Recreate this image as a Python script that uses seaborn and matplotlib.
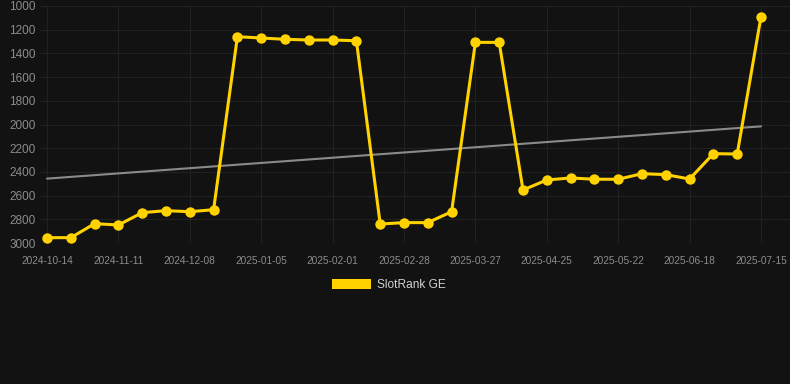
import numpy as np
import pandas as pd
import matplotlib
matplotlib.use("Agg")
import matplotlib.pyplot as plt
from matplotlib.patches import Patch
import seaborn as sns

# ---- data ----
ranks = [2955, 2955, 2837, 2848, 2744, 2727, 2736, 2719,
         1259, 1270, 1281, 1287, 1287, 1293,
         2840, 2828, 2828, 2736, 1307, 1307,
         2553, 2468, 2451, 2462, 2462, 2415, 2423, 2460,
         2246, 2249, 1090]
tick_labels = ["2024-10-14", "2024-11-11", "2024-12-08", "2025-01-05",
               "2025-02-01", "2025-02-28", "2025-03-27", "2025-04-25",
               "2025-05-22", "2025-06-18", "2025-07-15"]
y_ticks = [1000, 1200, 1400, 1600, 1800, 2000, 2200, 2400, 2600, 2800, 3000]
series_name = "SlotRank GE"

idx = np.arange(len(ranks))
df = pd.DataFrame({"idx": idx, "rank": ranks})

# linear trend of the series
coef = np.polyfit(idx, ranks, 1)
trend = np.polyval(coef, idx)

sns.set_theme(style="dark")
plt.rcParams["font.family"] = ["Liberation Sans", "DejaVu Sans"]

bg = "#121212"
fig = plt.figure(figsize=(7.9, 3.84), dpi=100, facecolor=bg)
ax = fig.add_axes([40 / 790, 1 - 243 / 384, 750 / 790, (243 - 6) / 384])
ax.set_facecolor(bg)

ax.plot(idx, trend, color="#8a8a8a", lw=1.5, zorder=2)
sns.lineplot(data=df, x="idx", y="rank", ax=ax, color="#FFD200", lw=2.2,
             marker="o", markersize=7.5, markeredgewidth=0, zorder=3)

ax.set_ylim(3000, 1000)
ax.set_yticks(y_ticks)
ax.set_yticklabels([str(v) for v in y_ticks])
n_step = (len(ranks) - 1) // (len(tick_labels) - 1)
ax.set_xticks(idx[::n_step])
ax.set_xticklabels(tick_labels)
ax.set_xlim(-7 / 23.8, 30 + 29 / 23.8)

ax.grid(True, color="#212121", lw=0.8)
ax.tick_params(axis="y", colors="#8c8c8c", labelsize=8.5, length=0, pad=3)
ax.tick_params(axis="x", colors="#8c8c8c", labelsize=7.3, length=0, pad=9.5)
for s in ax.spines.values():
    s.set_visible(False)
ax.set_xlabel("")
ax.set_ylabel("")

handle = Patch(facecolor="#FFD200", edgecolor="none")
fig.legend([handle], [series_name], loc="center",
           bbox_to_anchor=(389 / 790, 1 - 285 / 384), frameon=False,
           handlelength=3.3, handleheight=1.0, handletextpad=0.5,
           fontsize=8.6, labelcolor="#d0d0d0")

fig.savefig("out.png", dpi=100, facecolor=bg)
